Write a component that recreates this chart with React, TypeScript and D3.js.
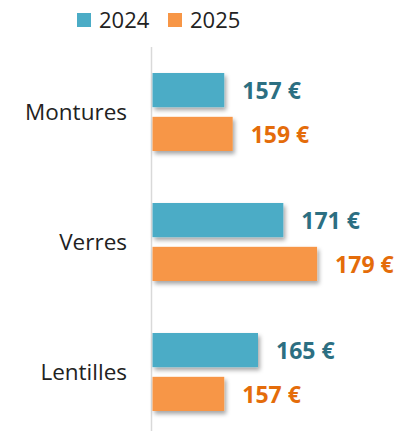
import React from "react";
import * as d3 from "d3";

const categories = ["Montures", "Verres", "Lentilles"];
const seriesNames = ["2024", "2025"];
const values2024 = [157, 171, 165];
const values2025 = [159, 179, 157];
const xDomain = [140, 200];

const W = 403;
const H = 431;
const barColors = ["#4BACC6", "#F79646"];
const labelColors = ["#2C6F82", "#E46C0A"];
const FONT = "'Open Sans', 'Noto Sans', sans-serif";

export default function App() {
  const x = d3.scaleLinear().domain(xDomain).range([152.5, 405.7]);
  const y = d3
    .scaleBand<string>()
    .domain(categories)
    .range([47, 437])
    .paddingInner(0.4)
    .paddingOuter(0.2);
  const inner = d3
    .scaleBand<string>()
    .domain(seriesNames)
    .range([0, y.bandwidth()])
    .paddingInner(0.22);
  const series = [values2024, values2025];
  const axisX = 151.5;

  return (
    <div style={{ position: "fixed", left: 0, top: 0 }}>
      <svg width={W} height={H} style={{ display: "block", background: "#fff" }}>
        <defs>
          <filter id="shadow" x="-10%" y="-20%" width="130%" height="160%">
            <feDropShadow dx="2" dy="3" stdDeviation="2" floodColor="#000" floodOpacity="0.35" />
          </filter>
        </defs>
        {/* legend */}
        {seriesNames.map((s, i) => {
          const lx = [77, 168][i];
          return (
            <g key={s}>
              <rect x={lx} y={13} width={14} height={14} fill={barColors[i]} />
              <text x={lx + 22} y={28} fontFamily={FONT} fontSize={22} fill="#222">
                {s}
              </text>
            </g>
          );
        })}
        {/* axis line */}
        <line x1={axisX} x2={axisX} y1={47} y2={H} stroke="#d9d9d9" strokeWidth={1.5} />
        {categories.map((c, ci) => {
          const y0 = y(c)!;
          const cy = y0 + y.bandwidth() / 2;
          return (
            <g key={c}>
              <text
                x={127}
                y={cy + 8}
                textAnchor="end"
                fontFamily={FONT}
                fontSize={22.5}
                fill="#222"
              >
                {c}
              </text>
              {seriesNames.map((s, si) => {
                const v = series[si][ci];
                const by = y0 + inner(s)!;
                const bh = inner.bandwidth();
                return (
                  <g key={s}>
                    <rect
                      x={x(xDomain[0])}
                      y={by}
                      width={x(v) - x(xDomain[0])}
                      height={bh}
                      fill={barColors[si]}
                      filter="url(#shadow)"
                    />
                    <text
                      x={x(v) + 18}
                      y={by + bh / 2 + 9}
                      fontFamily={FONT}
                      fontSize={23}
                      fontWeight={700}
                      fill={labelColors[si]}
                    >
                      {`${v} €`}
                    </text>
                  </g>
                );
              })}
            </g>
          );
        })}
      </svg>
    </div>
  );
}
